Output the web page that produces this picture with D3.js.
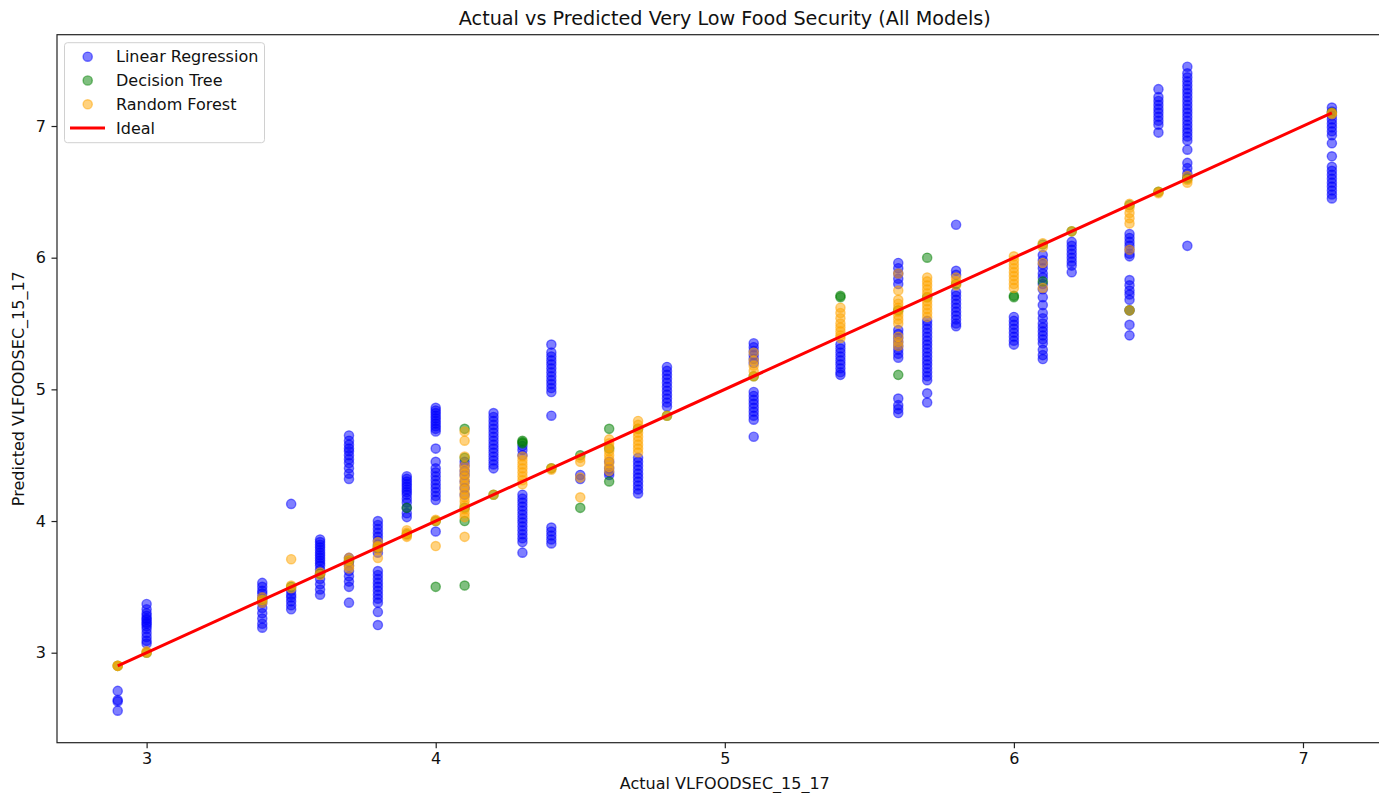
<!DOCTYPE html>
<html lang="en">
<head>
<meta charset="utf-8">
<title>Actual vs Predicted Very Low Food Security</title>
<script src="https://d3js.org/d3.v7.min.js"></script>
<style>
  body, html { margin: 0; padding: 0; background: #fff; }
  svg { display: block; font-family: "DejaVu Sans", sans-serif; }
</style>
</head>
<body>
<div id="chart"></div>
<script>
// actual VLFOODSEC_15_17 values (one column of dots each)
var actual = [2.9, 3.0, 3.4, 3.5, 3.6, 3.7, 3.8, 3.9, 4.0, 4.1, 4.2, 4.3, 4.4, 4.5, 4.6,
  4.7, 4.8, 5.1, 5.4, 5.6, 5.7, 5.8, 6.0, 6.1, 6.2, 6.4, 6.5, 6.6, 7.1]

// predictions per actual value
var linearPred = [
  [2.71, 2.64, 2.63, 2.56],
  [3.37, 3.33, 3.30, 3.28, 3.26, 3.25, 3.23, 3.22, 3.20, 3.18, 3.15, 3.12, 3.09, 3.07],
  [3.53, 3.50, 3.47, 3.45, 3.42, 3.38, 3.34, 3.30, 3.26, 3.22, 3.19],
  [4.13, 3.47, 3.44, 3.42, 3.39, 3.36, 3.33],
  [3.86, 3.84, 3.82, 3.80, 3.78, 3.76, 3.74, 3.72, 3.70, 3.68, 3.66, 3.63, 3.60, 3.56, 3.52, 3.48, 3.44],
  [4.65, 4.61, 4.58, 4.55, 4.53, 4.50, 4.47, 4.44, 4.40, 4.36, 4.32, 3.72, 3.69, 3.66, 3.62, 3.58, 3.54, 3.50, 3.38],
  [4.00, 3.97, 3.94, 3.91, 3.88, 3.85, 3.82, 3.79, 3.76, 3.62, 3.59, 3.56, 3.53, 3.50, 3.47, 3.44, 3.41, 3.38, 3.31, 3.21],
  [4.34, 4.32, 4.30, 4.28, 4.26, 4.24, 4.22, 4.20, 4.17, 4.14, 4.10, 4.06, 4.03],
  [4.86, 4.84, 4.82, 4.80, 4.78, 4.76, 4.74, 4.72, 4.70, 4.68, 4.55, 4.45, 4.40, 4.37, 4.34, 4.31, 4.28, 4.25, 4.22, 4.19, 4.16, 3.92],
  [4.45, 4.42, 4.38, 4.35, 4.30, 4.25, 4.20],
  [4.82, 4.79, 4.76, 4.73, 4.70, 4.67, 4.64, 4.61, 4.58, 4.55, 4.52, 4.49, 4.46, 4.43, 4.40],
  [4.57, 4.54, 4.50, 4.20, 4.17, 4.14, 4.11, 4.08, 4.05, 4.02, 3.99, 3.96, 3.93, 3.90, 3.87, 3.84, 3.76],
  [5.34, 5.28, 5.25, 5.22, 5.19, 5.16, 5.13, 5.10, 5.07, 5.04, 5.01, 4.98, 4.80, 3.95, 3.92, 3.89, 3.86, 3.83],
  [4.35, 4.32],
  [4.45, 4.40, 4.37, 4.35],
  [4.48, 4.45, 4.42, 4.39, 4.36, 4.33, 4.30, 4.27, 4.24, 4.21],
  [5.17, 5.14, 5.11, 5.08, 5.05, 5.02, 4.99, 4.96, 4.93, 4.90, 4.87],
  [5.35, 5.32, 5.29, 5.26, 5.23, 5.20, 4.98, 4.95, 4.92, 4.89, 4.86, 4.83, 4.80, 4.77, 4.64],
  [5.34, 5.31, 5.28, 5.25, 5.22, 5.19, 5.16, 5.13, 5.11],
  [5.96, 5.92, 5.88, 5.84, 5.80, 5.45, 5.42, 5.39, 5.36, 5.33, 5.30, 5.27, 5.24, 4.93, 4.88, 4.85, 4.82],
  [5.52, 5.49, 5.46, 5.43, 5.40, 5.37, 5.34, 5.31, 5.28, 5.25, 5.22, 5.19, 5.16, 5.13, 5.10, 5.07, 4.97, 4.90],
  [6.25, 5.90, 5.87, 5.74, 5.71, 5.68, 5.65, 5.62, 5.59, 5.56, 5.53, 5.50, 5.48],
  [5.55, 5.52, 5.49, 5.46, 5.43, 5.40, 5.37, 5.34],
  [6.02, 5.98, 5.95, 5.92, 5.88, 5.85, 5.80, 5.76, 5.70, 5.64, 5.58, 5.54, 5.50, 5.47, 5.44, 5.41, 5.38, 5.35, 5.30, 5.26, 5.23],
  [6.12, 6.09, 6.06, 6.03, 6.00, 5.97, 5.94, 5.89],
  [6.18, 6.15, 6.12, 6.09, 6.06, 6.03, 6.01, 5.83, 5.79, 5.75, 5.72, 5.68, 5.60, 5.49, 5.41],
  [7.28, 7.22, 7.19, 7.16, 7.13, 7.10, 7.07, 7.04, 7.01, 6.95],
  [7.45, 7.40, 7.37, 7.34, 7.31, 7.28, 7.25, 7.22, 7.19, 7.16, 7.13, 7.10, 7.07, 7.04, 7.01, 6.98, 6.95, 6.92, 6.89, 6.82, 6.72, 6.68, 6.64, 6.61, 6.09],
  [7.14, 7.11, 7.08, 7.05, 7.02, 6.99, 6.96, 6.93, 6.87, 6.77, 6.69, 6.66, 6.63, 6.60, 6.57, 6.54, 6.51, 6.48, 6.45]
]

var treePred = [
  [2.9], [3.0], [3.4], [3.5], [3.6], [3.7], [3.8], [4.10, 3.9], [4.0, 3.5],
  [4.70, 4.48, 4.1, 4.0, 3.51], [4.2], [4.61, 4.60, 4.59], [4.4], [4.50, 4.10],
  [4.70, 4.55, 4.30], [4.7], [4.8], [5.1], [5.71, 5.70], [5.6, 5.11], [6.00, 5.7],
  [5.8], [5.71, 5.70], [6.1, 5.82], [6.2], [6.4, 5.6], [6.5], [6.6], [7.1]
]

var forestPred = [
  [2.9, 2.9],
  [3.0, 3.01],
  [3.42, 3.40, 3.38],
  [3.71, 3.51, 3.49],
  [3.61, 3.59],
  [3.72, 3.70, 3.66, 3.64],
  [3.84, 3.81, 3.80, 3.78, 3.72],
  [3.93, 3.91, 3.89, 3.88],
  [4.01, 4.00, 3.81],
  [4.68, 4.61, 4.49, 4.42, 4.39, 4.36, 4.33, 4.30, 4.27, 4.24, 4.21, 4.18, 4.15, 4.12, 4.09, 4.06, 4.03, 3.88],
  [4.2],
  [4.49, 4.46, 4.43, 4.40, 4.37, 4.34, 4.31, 4.28],
  [4.40, 4.39],
  [4.48, 4.45, 4.33, 4.18],
  [4.62, 4.59, 4.56, 4.53, 4.50, 4.47, 4.44, 4.41, 4.38],
  [4.76, 4.73, 4.70, 4.67, 4.64, 4.61, 4.58, 4.55, 4.52],
  [4.8],
  [5.28, 5.22, 5.18, 5.14, 5.10],
  [5.62, 5.58, 5.54, 5.50, 5.47, 5.44, 5.41, 5.39],
  [5.88, 5.75, 5.68, 5.65, 5.62, 5.59, 5.56, 5.53, 5.50, 5.40, 5.36, 5.33],
  [5.85, 5.82, 5.79, 5.76, 5.73, 5.70, 5.67, 5.64, 5.61, 5.58, 5.55],
  [5.85, 5.82, 5.79],
  [6.01, 5.98, 5.95, 5.92, 5.89, 5.86, 5.83, 5.80, 5.77],
  [6.11, 6.08, 5.96, 5.77],
  [6.20],
  [6.41, 6.38, 6.34, 6.30, 6.26, 6.06, 5.60],
  [6.50, 6.49],
  [6.62, 6.59, 6.57],
  [7.10, 7.09]
]

var idealLine = [2.9, 7.1]
var xTicks = [3, 4, 5, 6, 7]
var yTicks = [3, 4, 5, 6, 7]

var series = [
  {name: "Linear Regression", color: "#0000ff", values: linearPred},
  {name: "Decision Tree", color: "#008000", values: treePred},
  {name: "Random Forest", color: "#ffa500", values: forestPred}
]

var width = 1379, height = 793
var plot = {left: 57, right: 1392.6, top: 34.7, bottom: 742.7}
var fontSize = "16px"
var dotR = 4.6, dotEdge = 1.4

var svg = d3.select("#chart").append("svg")
  .attr("width", width)
  .attr("height", height)

var xScale = d3.scaleLinear()
  .domain([2.69, 7.31])
  .range([plot.left, plot.right])
var yScale = d3.scaleLinear()
  .domain([2.3165, 7.6935])
  .range([plot.bottom, plot.top])

svg.append("clipPath").attr("id", "plotclip")
  .append("rect")
  .attr("x", plot.left).attr("y", plot.top)
  .attr("width", plot.right - plot.left).attr("height", plot.bottom - plot.top)

var dotsGroup = svg.append("g").attr("clip-path", "url(#plotclip)")

// matplotlib order: LR, then DT, then RF, then the ideal line
series.forEach(function (s) {
  var pts = []
  s.values.forEach(function (list, i) {
    list.forEach(function (v) { pts.push({x: actual[i], y: v}) })
  })
  dotsGroup.append("g").selectAll("circle")
    .data(pts)
    .enter().append("circle")
    .attr("cx", d => xScale(d.x))
    .attr("cy", d => yScale(d.y))
    .attr("r", dotR)
    .attr("fill", s.color)
    .attr("fill-opacity", 0.5)
    .attr("stroke", s.color)
    .attr("stroke-opacity", 0.5)
    .attr("stroke-width", dotEdge)
})

var line = d3.line()
  .x(d => xScale(d))
  .y(d => yScale(d))

dotsGroup.append("path")
  .attr("d", line(idealLine))
  .attr("fill", "none")
  .attr("stroke", "#ff0000")
  .attr("stroke-width", 3)

// frame
svg.append("rect")
  .attr("x", plot.left).attr("y", plot.top)
  .attr("width", plot.right - plot.left).attr("height", plot.bottom - plot.top)
  .attr("fill", "none")
  .attr("stroke", "#222")
  .attr("stroke-width", 1.2)

var xAxis = svg.append("g")
  .attr("transform", "translate(0," + plot.bottom + ")")
  .call(d3.axisBottom(xScale).tickValues(xTicks).tickFormat(d3.format("d"))
    .tickSize(5.5).tickSizeOuter(0).tickPadding(4))
var yAxis = svg.append("g")
  .attr("transform", "translate(" + plot.left + ",0)")
  .call(d3.axisLeft(yScale).tickValues(yTicks).tickFormat(d3.format("d"))
    .tickSize(5.5).tickSizeOuter(0).tickPadding(5.5))

;[xAxis, yAxis].forEach(function (ax) {
  ax.select(".domain").remove()
  ax.selectAll("line").attr("stroke", "#222").attr("stroke-width", 1.2)
  ax.selectAll("text")
    .attr("fill", "#111")
    .style("font-family", "DejaVu Sans")
    .style("font-size", fontSize)
})

svg.append("text")
  .text("Actual vs Predicted Very Low Food Security (All Models)")
  .attr("x", (plot.left + plot.right) / 2)
  .attr("y", 25)
  .attr("text-anchor", "middle")
  .attr("fill", "#111")
  .style("font-size", "19.2px")

svg.append("text")
  .text("Actual VLFOODSEC_15_17")
  .attr("x", (plot.left + plot.right) / 2)
  .attr("y", 789)
  .attr("text-anchor", "middle")
  .attr("fill", "#111")
  .style("font-size", fontSize)

svg.append("text")
  .text("Predicted VLFOODSEC_15_17")
  .attr("text-anchor", "middle")
  .attr("fill", "#111")
  .attr("transform", "translate(24," + (plot.top + plot.bottom) / 2 + ") rotate(-90)")
  .style("font-size", fontSize)

// legend
var legend = svg.append("g").attr("transform", "translate(64.5,42.7)")
legend.append("rect")
  .attr("width", 200).attr("height", 100)
  .attr("rx", 3)
  .attr("fill", "#fff").attr("fill-opacity", 0.8)
  .attr("stroke", "#d0d0d0").attr("stroke-width", 1)

var legendItems = series.map(s => ({name: s.name, color: s.color, type: "dot"}))
legendItems.push({name: "Ideal", color: "#ff0000", type: "line"})

legendItems.forEach(function (item, i) {
  var cy = 14 + i * 23.8
  if (item.type === "dot") {
    legend.append("circle")
      .attr("cx", 23.2).attr("cy", cy).attr("r", dotR)
      .attr("fill", item.color).attr("fill-opacity", 0.5)
      .attr("stroke", item.color).attr("stroke-opacity", 0.5).attr("stroke-width", dotEdge)
  } else {
    legend.append("line")
      .attr("x1", 5.5).attr("x2", 40.5).attr("y1", cy).attr("y2", cy)
      .attr("stroke", item.color).attr("stroke-width", 3)
  }
  legend.append("text")
    .text(item.name)
    .attr("x", 51.5).attr("y", cy)
    .attr("dy", "0.35em")
    .attr("fill", "#111")
    .style("font-size", fontSize)
})
</script>
</body>
</html>
